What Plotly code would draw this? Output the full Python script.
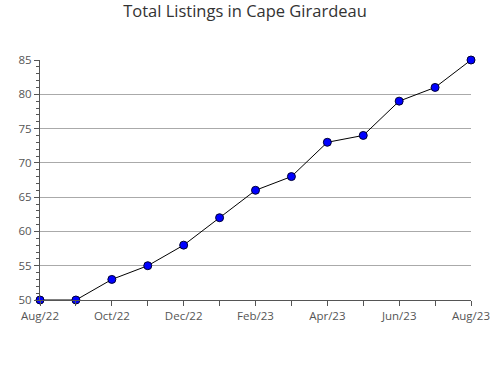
import plotly.graph_objects as go

months = ["Aug/22", "Sep/22", "Oct/22", "Nov/22", "Dec/22", "Jan/23", "Feb/23",
          "Mar/23", "Apr/23", "May/23", "Jun/23", "Jul/23", "Aug/23"]
listings = [50, 50, 53, 55, 58, 62, 66, 68, 73, 74, 79, 81, 85]
tick_labels = [m if i % 2 == 0 else "" for i, m in enumerate(months)]

x = list(range(len(months)))

fig = go.Figure(go.Scatter(
    x=x, y=listings, mode="lines+markers",
    line=dict(color="black", width=1),
    marker=dict(color="#0000ff", size=8, line=dict(color="#000033", width=1)),
    cliponaxis=False,
))

fig.update_layout(
    width=490, height=380,
    margin=dict(l=40, r=19, t=60, b=80),
    paper_bgcolor="white", plot_bgcolor="white",
    font=dict(family="Open Sans", color="#555555", size=11.5),
    title=dict(text="Total Listings in Cape Girardeau", x=0.5, xanchor="center",
               y=0.985, yanchor="top",
               font=dict(size=16.5, color="#333333", family="Open Sans")),
    showlegend=False,
)
fig.update_xaxes(
    range=[0, 12], tickvals=x, ticktext=tick_labels, automargin=False,
    ticklabeloverflow="allow",
    ticks="outside", ticklen=5, tickcolor="#555555",
    showline=True, linecolor="#555555", linewidth=1,
    showgrid=False, zeroline=False,
)
fig.update_yaxes(
    range=[50, 85], dtick=5, tick0=50, automargin=False,
    ticks="outside", ticklen=5, tickcolor="#555555",
    showline=True, linecolor="#555555", linewidth=1,
    showgrid=True, gridcolor="#aaaaaa", gridwidth=1, zeroline=False,
    minor=dict(dtick=1, ticks="outside", ticklen=3, tickcolor="#555555", showgrid=False),
)

fig.write_html("out.html")
